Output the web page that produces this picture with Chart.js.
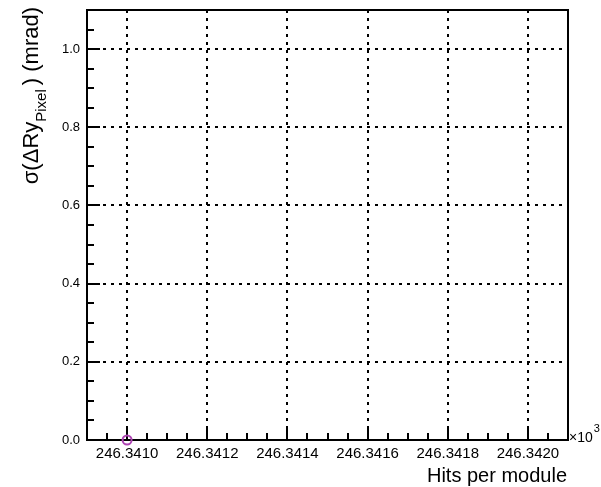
<!DOCTYPE html>
<html>
<head>
<meta charset="utf-8">
<script src="https://cdn.jsdelivr.net/npm/chart.js@4/dist/chart.umd.min.js"></script>
<style>
  html, body { margin: 0; padding: 0; background: #fff; }
  #wrap { width: 601px; height: 487px; }
</style>
</head>
<body>
<div id="wrap"><canvas id="c" width="601" height="487"></canvas></div>
<script>
// Hits per module (in units of 10^3) and the fitted width sigma(ΔRy) in mrad
const hitsPerModule = [246.3410];
const sigmaRy = [0.0];

// Axis tick values and their printed labels
const xTickValues = [246.3410, 246.3412, 246.3414, 246.3416, 246.3418, 246.3420];
const xTickLabels = ['246.3410', '246.3412', '246.3414', '246.3416', '246.3418', '246.3420'];
const yTickValues = [0.0, 0.2, 0.4, 0.6, 0.8, 1.0];
const yTickLabels = ['0.0', '0.2', '0.4', '0.6', '0.8', '1.0'];

const X_MIN = 246.3409, X_MAX = 246.3421;
const Y_MIN = 0, Y_MAX = 1.1;
const FONT = '"Liberation Sans", Arial, Helvetica, sans-serif';

// Frame, inward major/minor ticks and axis titles in the ROOT style
const framePlugin = {
  id: 'frame',
  beforeDatasetsDraw(chart) {
    const { ctx, chartArea: a, scales: { x, y } } = chart;
    ctx.save();
    ctx.strokeStyle = '#000';
    ctx.lineWidth = 2;
    ctx.beginPath();
    // x ticks (inward from the bottom edge)
    for (let k = -2; k <= 22; k++) {
      const v = 246.3410 + k * 0.00005;
      if (v < X_MIN - 1e-9 || v > X_MAX + 1e-9) continue;
      const px = Math.round(x.getPixelForValue(v));
      const len = (k % 4 === 0) ? 14 : 7;
      ctx.moveTo(px, a.bottom);
      ctx.lineTo(px, a.bottom - len);
    }
    // y ticks (inward from the left edge)
    for (let k = 0; k <= 22; k++) {
      const v = k * 0.05;
      if (v > Y_MAX + 1e-9) continue;
      const py = Math.round(y.getPixelForValue(v));
      const len = (k % 4 === 0) ? 13 : 7;
      ctx.moveTo(a.left, py);
      ctx.lineTo(a.left + len, py);
    }
    ctx.stroke();
    ctx.strokeRect(a.left, a.top, a.right - a.left, a.bottom - a.top);

    // x axis title
    ctx.fillStyle = '#000';
    ctx.font = '20px ' + FONT;
    ctx.textAlign = 'right';
    ctx.textBaseline = 'alphabetic';
    ctx.fillText('Hits per module', a.right - 1, 482);

    // exponent marker
    ctx.textAlign = 'left';
    ctx.font = '14px ' + FONT;
    ctx.fillText('\u00d710', a.right + 1, 442);
    const w10 = ctx.measureText('\u00d710').width;
    ctx.font = '11px ' + FONT;
    ctx.fillText('3', a.right + 2 + w10, 432);

    // y axis title, rotated, ending near the top of the frame
    const parts = [
      { t: '\u03c3(\u0394Ry', size: 22, dy: 0 },
      { t: 'Pixel', size: 15, dy: 8 },
      { t: ') (mrad)', size: 22, dy: 0 }
    ];
    let total = 0;
    parts.forEach(p => { ctx.font = p.size + 'px ' + FONT; p.w = ctx.measureText(p.t).width; total += p.w; });
    total += 4;
    ctx.translate(38, 7);
    ctx.rotate(-Math.PI / 2);
    let cx = -total;
    parts.forEach((p, i) => {
      ctx.font = p.size + 'px ' + FONT;
      ctx.fillText(p.t, cx, p.dy);
      cx += p.w + (i === 1 ? 4 : 0);
    });
    ctx.restore();
  }
};

new Chart(document.getElementById('c'), {
  type: 'scatter',
  data: {
    datasets: [{
      data: hitsPerModule.map((h, i) => ({ x: h, y: sigmaRy[i] })),
      pointStyle: 'circle',
      pointRadius: 4.5,
      pointHoverRadius: 4.5,
      borderColor: '#ad44b2',
      backgroundColor: 'rgba(0,0,0,0)',
      pointBorderWidth: 2,
      clip: false
    }]
  },
  options: {
    responsive: false,
    animation: false,
    events: [],
    layout: { padding: { top: 10, right: 33, left: 0, bottom: 0 } },
    plugins: { legend: { display: false }, tooltip: { enabled: false } },
    scales: {
      x: {
        type: 'linear',
        min: X_MIN,
        max: X_MAX,
        afterBuildTicks(scale) { scale.ticks = xTickValues.map(v => ({ value: v })); },
        afterFit(scale) { scale.height = 47; scale.paddingLeft = 0; scale.paddingRight = 0; },
        ticks: {
          callback: (v, i) => xTickLabels[i],
          color: '#000',
          font: { family: FONT, size: 15 },
          padding: 5,
          maxRotation: 0,
          autoSkip: false
        },
        grid: { color: '#000', lineWidth: 2, drawTicks: false },
        border: { display: false, dash: [3, 5] }
      },
      y: {
        type: 'linear',
        min: Y_MIN,
        max: Y_MAX,
        afterBuildTicks(scale) { scale.ticks = yTickValues.map(v => ({ value: v })); },
        afterFit(scale) { scale.width = 87; scale.paddingTop = 0; scale.paddingBottom = 0; },
        ticks: {
          callback: (v, i) => yTickLabels[i],
          color: '#000',
          font: { family: FONT, size: 13 },
          padding: 7,
          autoSkip: false
        },
        grid: { color: '#000', lineWidth: 2, drawTicks: false },
        border: { display: false, dash: [3, 5] }
      }
    }
  },
  plugins: [framePlugin]
});
</script>
</body>
</html>
